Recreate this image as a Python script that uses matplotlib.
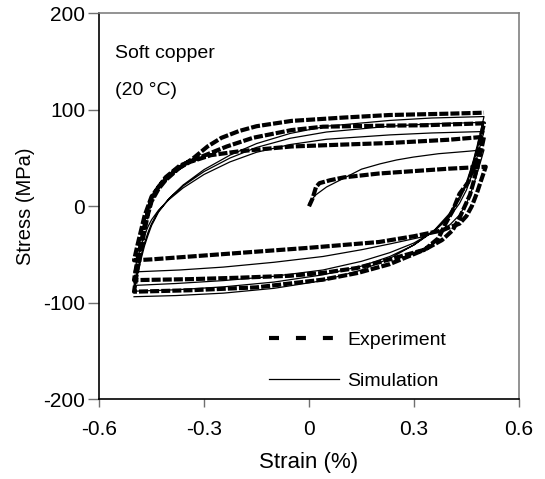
import matplotlib
matplotlib.use("Agg")
import matplotlib.pyplot as plt
from matplotlib.lines import Line2D

plt.rcParams['font.family'] = ['Liberation Sans', 'DejaVu Sans']
plt.rcParams['lines.scale_dashes'] = False

# experiment: one continuous strain-controlled path
exp_strain = [
    0.000, 0.005, 0.010, 0.020, 0.030, 0.060, 0.10, 0.15, 0.20, 0.30, 0.40, 0.505,
    0.49, 0.48, 0.465, 0.45, 0.43, 0.40, 0.38, 0.30, 0.20, 0.10, 0.00, -0.15, -0.30, -0.45, -0.50,
    -0.49, -0.48, -0.47, -0.46, -0.45, -0.43, -0.41, -0.38, -0.34, -0.28, -0.20, -0.05, 0.10, 0.23, 0.40, 0.50,
    0.49, 0.48, 0.47, 0.46, 0.445, 0.43, 0.41, 0.38, 0.33, 0.28, 0.20, 0.136, 0.04, -0.054, -0.20, -0.34, -0.50,
    -0.49, -0.48, -0.47, -0.46, -0.45, -0.43, -0.41, -0.37, -0.31, -0.235, -0.16, -0.05, 0.04, 0.20, 0.33, 0.50,
    0.49, 0.48, 0.47, 0.455, 0.43, 0.41, 0.39, 0.37, 0.33, 0.23, 0.14, 0.04, -0.15, -0.34, -0.50,
    -0.49, -0.48, -0.47, -0.46, -0.45, -0.43, -0.41, -0.37, -0.33, -0.29, -0.25, -0.20, -0.15, -0.05, 0.10, 0.23, 0.40, 0.50,
]
exp_stress = [
    0, 4, 8, 20, 24, 27, 30, 32, 34, 36.5, 39, 41,
    25, 14, 0, -10, -18, -22, -25, -31, -37, -40, -43, -47, -51, -55, -56,
    -40, -25, -10, 0, 10, 20, 28, 38, 46, 53, 57, 62, 64, 65.6, 69, 72,
    55, 40, 25, 12, 0, -12, -25, -35, -45, -50, -58, -64, -69, -72, -74, -75.5, -76.5,
    -55, -38, -20, -5, 8, 20, 30, 42, 51, 62, 71, 79, 82.5, 83.5, 84, 86,
    70, 55, 41, 25, 13, -5, -18, -33, -45, -60, -69, -76, -84, -87, -88.5,
    -65, -45, -25, -8, 5, 18, 27, 40, 50, 62, 71, 78, 83, 88.5, 92, 94.6, 96, 97,
]

# simulation: same loading history
sim_strain = [
    0.000, 0.005, 0.02, 0.05, 0.108, 0.15, 0.203, 0.25, 0.298, 0.37, 0.44, 0.50,
    0.49, 0.48, 0.47, 0.46, 0.45, 0.43, 0.403, 0.37, 0.32, 0.231, 0.15, 0.04, -0.10, -0.245, -0.37, -0.50,
    -0.49, -0.48, -0.47, -0.46, -0.45, -0.43, -0.40, -0.36, -0.30, -0.226, -0.15, -0.054, 0.05, 0.231, 0.35, 0.50,
    0.49, 0.48, 0.47, 0.46, 0.45, 0.43, 0.40, 0.36, 0.30, 0.231, 0.15, 0.04, -0.10, -0.245, -0.38, -0.50,
    -0.49, -0.48, -0.47, -0.46, -0.45, -0.43, -0.40, -0.36, -0.30, -0.226, -0.15, -0.054, 0.05, 0.231, 0.35, 0.50,
    0.49, 0.48, 0.47, 0.46, 0.45, 0.43, 0.40, 0.36, 0.30, 0.231, 0.15, 0.04, -0.10, -0.245, -0.38, -0.50,
    -0.49, -0.48, -0.47, -0.46, -0.45, -0.43, -0.40, -0.36, -0.30, -0.226, -0.15, -0.054, 0.05, 0.231, 0.35, 0.50,
    0.49, 0.48, 0.47, 0.46, 0.45, 0.43, 0.40, 0.36, 0.30, 0.231, 0.15, 0.04, -0.10, -0.245, -0.38, -0.50,
]
sim_stress = [
    3, 6, 12, 20, 30.7, 38.5, 44, 48, 51, 54.5, 56.6, 58.5,
    46, 34, 22, 12, 3, -9, -19, -26, -32, -39, -45, -52, -58, -63, -66, -68,
    -54, -41, -30, -21, -14, -4, 7, 19, 33, 46, 56, 64, 69.5, 74, 76, 77.5,
    64, 51, 38, 27, 17, 3, -12, -25, -38, -48, -57, -66, -72.5, -77, -80, -82,
    -66, -51, -38, -27, -18, -5, 8, 21, 36, 50, 61, 70.5, 77, 83, 85.5, 87,
    72, 58, 45, 33, 22, 7, -10, -25, -40, -52, -62, -71, -78.5, -83.5, -86.5, -88,
    -71, -55, -41, -30, -20, -6, 8, 22, 38, 53, 65, 75.5, 83, 89, 91.5, 93,
    77, 62, 48, 36, 25, 10, -8, -24, -40, -54, -66, -77, -85, -90, -92.5, -93.7,
]

x_ticks = [-0.6, -0.3, 0, 0.3, 0.6]
x_tick_labels = ['-0.6', '-0.3', '0', '0.3', '0.6']
y_ticks = [-200, -100, 0, 100, 200]
y_tick_labels = ['-200', '-100', '0', '100', '200']

fig = plt.figure(figsize=(5.45, 4.79), dpi=100)
ax = fig.add_axes([0.1817, 0.1664, 0.7706, 0.8058])

ax.plot(exp_strain, exp_stress, color='black', lw=3.0, dashes=(6.5, 1.5),
        solid_joinstyle='miter', dash_capstyle='butt')
ax.plot(sim_strain, sim_stress, color='black', lw=0.9)

ax.set_xlim(-0.6, 0.6)
ax.set_ylim(-200, 200)
ax.set_xticks(x_ticks)
ax.set_xticklabels(x_tick_labels)
ax.set_yticks(y_ticks)
ax.set_yticklabels(y_tick_labels)
ax.tick_params(axis='x', direction='out', length=6, width=1.0, color='#707070',
               labelsize=15, pad=9)
ax.tick_params(axis='y', direction='out', length=8, width=1.0, color='#707070',
               labelsize=15, pad=2)

for side in ['left', 'bottom']:
    ax.spines[side].set_color('black')
    ax.spines[side].set_linewidth(1.2)
for side in ['top', 'right']:
    ax.spines[side].set_color('#808080')
    ax.spines[side].set_linewidth(1.2)

ax.set_xlabel('Strain (%)', fontsize=16, labelpad=9)
ax.set_ylabel('Stress (MPa)', fontsize=14.5, labelpad=6)

ax.text(0.038, 0.897, 'Soft copper', transform=ax.transAxes, fontsize=14, va='center')
ax.text(0.038, 0.801, '(20 °C)', transform=ax.transAxes, fontsize=14, va='center')

handles = [
    Line2D([], [], color='black', lw=3.0, dashes=(7.2, 12.2), dash_capstyle='butt'),
    Line2D([], [], color='black', lw=0.9),
]
ax.legend(handles, ['Experiment', 'Simulation'], loc='upper left',
          bbox_to_anchor=(0.405, 0.177), frameon=False, fontsize=14,
          handlelength=3.6, handletextpad=0.4, labelspacing=1.2,
          borderpad=0, borderaxespad=0)

fig.savefig('out.png', dpi=100)
